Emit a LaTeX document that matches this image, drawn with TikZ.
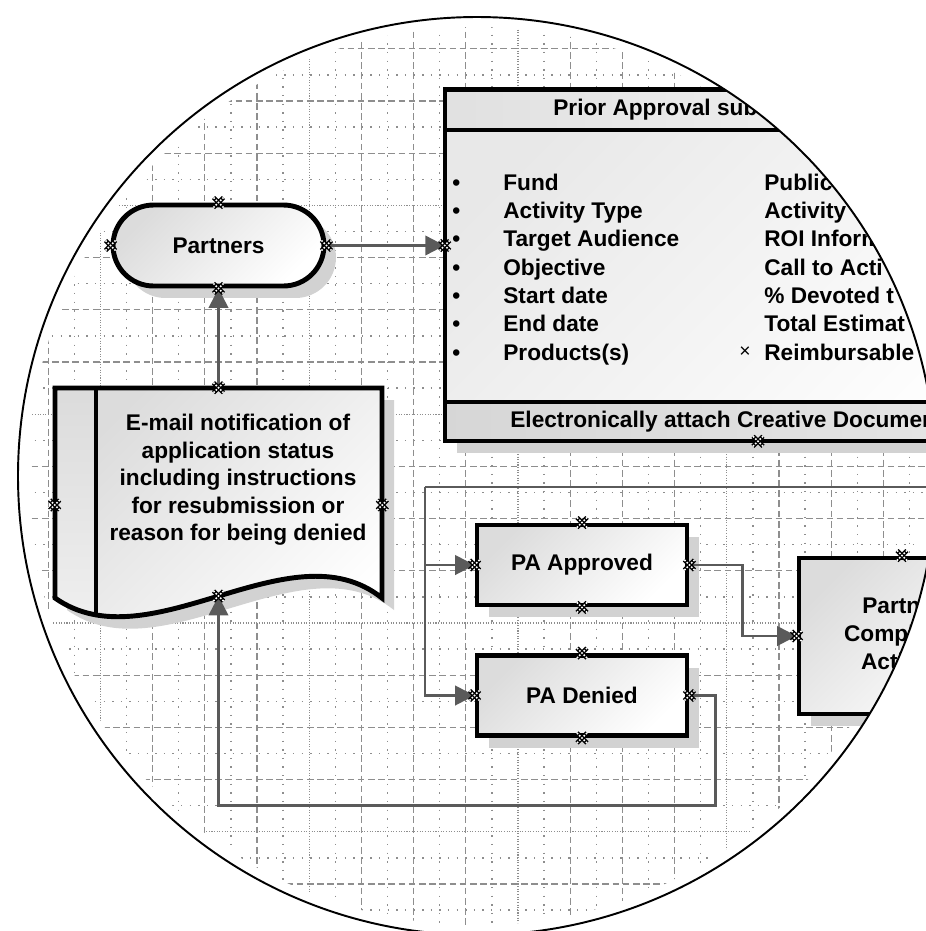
\documentclass[tikz,border=0pt]{standalone}
\usepackage{fontspec}
\setmainfont{Liberation Sans}
\usetikzlibrary{arrows.meta,shadows}

\definecolor{conn}{HTML}{5A5A5A}
\definecolor{gridc}{HTML}{8E8E8E}
\definecolor{shad}{HTML}{D2D2D2}
\definecolor{shadelt}{HTML}{DCDCDC}

\newcommand{\docpath}{(55,388) -- (382,388) -- (382,598) .. controls (290,525) and (150,665) .. (55,598) -- cycle}

\begin{document}
\begin{tikzpicture}[x=0.02cm, y=-0.02cm,
  every node/.style={font=\bfseries\fontsize{12.9}{15.7}\selectfont, inner sep=0pt},
  box/.style={draw, line width=2.8pt, top color=shadelt, bottom color=white, shading angle=45,
    general shadow={fill=shad, shadow xshift=0.24cm, shadow yshift=-0.24cm}},
  pill/.style={box, minimum width=4.22cm, minimum height=1.62cm, rounded corners=0.81cm},
  pabox/.style={box, minimum width=4.2cm, minimum height=1.6cm},
  con/.style={conn, line width=1.5pt, -{Triangle[length=11pt, width=11pt]}},
  link/.style={conn, line width=1.5pt},
  gdash/.style={gridc, line width=0.6pt, dash pattern=on 3.8pt off 2pt},
  gdot/.style={gridc, line width=0.6pt, dash pattern=on 0.6pt off 0.9pt},
  gsparse/.style={gridc, line width=0.8pt, dash pattern=on 0.8pt off 4.1pt},
  rowtxt/.style={anchor=base west},
  cpt/.pic={
    \draw[line width=2.5pt] (-5,-5) -- (5,5) (-5,5) -- (5,-5);
    \draw[white, line width=0.9pt, dash pattern=on 0.9pt off 0.9pt] (-5,-5) -- (5,5) (-5,5) -- (5,-5);}]
  \useasboundingbox (0,0) rectangle (926,931);
  \begin{scope}
    \clip (477,476) circle (459);
    % background grid
    \begin{scope}
      \clip (477,476) circle (449);
      \foreach \gx in {48.2,257,465.8,674.6,883.4} {
        \draw[gdash] (\gx,-60) -- (\gx,990);
        \draw[gdot] ({\gx+52.2},-60) -- ({\gx+52.2},990);
        \draw[gdash] ({\gx+104.4},-60) -- ({\gx+104.4},990);
        \draw[gdash] ({\gx+156.6},-60) -- ({\gx+156.6},990);
        \foreach \m in {26.1,78.3,130.5,182.7}
          \draw[gsparse] ({\gx+\m},-60) -- ({\gx+\m},990);
      }
      \foreach \gy in {-55.6,153.2,362,570.8,779.6} {
        \draw[gdash] (-60,\gy) -- (990,\gy);
        \draw[gdot] (-60,{\gy+52.2}) -- (990,{\gy+52.2});
        \draw[gdash] (-60,{\gy+104.4}) -- (990,{\gy+104.4});
        \draw[gdash] (-60,{\gy+156.6}) -- (990,{\gy+156.6});
        \foreach \m in {26.1,78.3,130.5,182.7}
          \draw[gsparse] (-60,{\gy+\m}) -- (990,{\gy+\m});
      }
    \end{scope}

    % prior approval form
    \fill[shad] (457,101.5) rectangle (1083,453);
    \shade[top color=black!9, bottom color=white, shading angle=45] (445,89.5) rectangle (1071,441);
    \shade[left color=black!12, right color=black!3] (445,89.5) rectangle (1071,130);
    \shade[left color=black!16, right color=black!9] (445,402) rectangle (1071,441);
    \draw[line width=2.8pt] (445,89.5) rectangle (1071,441) (445,130) -- (1071,130) (445,402) -- (1071,402);
    \node[minimum width=12.52cm, minimum height=7.03cm] (prior) at (758,265.25) {};
    \node[rowtxt] (phead) at (553,115.5) {Prior Approval sub};
    \node[rowtxt] (pfoot) at (510,427) {Electronically attach Creative Documents};
    \foreach \i/\yb/\lt/\rt in {1/190/Fund/Public, 2/218/Activity Type/Activity, 3/246/Target Audience/ROI Inform,
        4/275/Objective/Call to Acti, 5/303/Start date/\% Devoted t, 6/331/End date/Total Estimat,
        7/360/Products(s)/Reimbursable} {
      \node[rowtxt] (dot\i) at (452,\yb) {•};
      \node[rowtxt] (lt\i) at (503,\yb) {\lt};
      \node[rowtxt] (rt\i) at (764,\yb) {\rt};
    }
    \node[font=\fontsize{11}{12}\selectfont] (xmark) at (745,352) {×};

    % e-mail document
    \fill[shad, shift={(12,12)}] \docpath;
    \begin{scope}
      \clip \docpath;
      \shade[top color=shadelt, bottom color=white, shading angle=45] (55,388) rectangle (382,660);
      \shade[top color=black!14, bottom color=black!5] (55,388) rectangle (96,660);
    \end{scope}
    \draw[line width=2.8pt] \docpath;
    \draw[line width=2.8pt] (96,388) -- (96,614);
    \node[minimum width=6.54cm, minimum height=4.68cm] (mail) at (218.5,505) {};
    \node[align=center] (mailtxt) at (238,480) {E-mail notification of\\application status\\including instructions\\for resubmission or\\reason for being denied};

    \node[pill] (partners) at (218.5,245.5) {Partners};
    \node[pabox] (appr) at (582,565) {PA Approved};
    \node[pabox] (deny) at (582,695.5) {PA Denied};
    \node[box, minimum width=4.12cm, minimum height=3.12cm, align=center] (compl) at (902,636) {Partner\\Completes\\Activity};

    \coordinate (feed) at (990,487);
    \coordinate (split) at (425,487);
    \coordinate (mailin) at (218.5,596);
    \draw[con] (mail.north) -- (partners.south);
    \draw[con] (partners.east) -- (partners.east -| prior.west);
    \draw[link] (feed) -- (split);
    \draw[con] (split) |- (appr.west);
    \draw[con] (split) |- (deny.west);
    \draw[con] (appr.east) -- ++(53,0) |- (compl.west);
    \draw[con] (deny.east) -- ++(26,0) -- ++(0,110) -| (mailin);

    % connection points
    \pic at (partners.north) {cpt}; \pic at (partners.south) {cpt}; \pic at (partners.west) {cpt}; \pic at (partners.east) {cpt};
    \pic at (partners.east -| prior.west) {cpt}; \pic at (prior.south) {cpt};
    \pic at (mail.north) {cpt}; \pic at (mail.west) {cpt}; \pic at (mail.east) {cpt}; \pic at (mailin) {cpt};
    \pic at (appr.north) {cpt}; \pic at (appr.south) {cpt}; \pic at (appr.west) {cpt}; \pic at (appr.east) {cpt};
    \pic at (deny.north) {cpt}; \pic at (deny.south) {cpt}; \pic at (deny.west) {cpt}; \pic at (deny.east) {cpt};
    \pic at (compl.west) {cpt}; \pic at (compl.north) {cpt};
  \end{scope}
  \draw[line width=1.1pt] (477,476) circle (459);
\end{tikzpicture}
\end{document}
